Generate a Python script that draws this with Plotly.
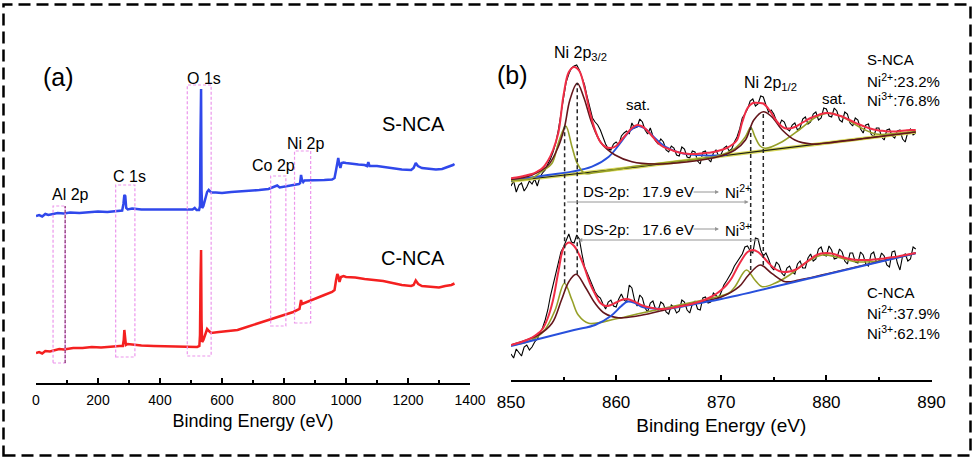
import numpy as np
import plotly.graph_objects as go

W, H = 975, 464
def px(x): return x / W
def py(y): return 1 - y / H

FONT = "Arial, Liberation Sans, Helvetica, sans-serif"

# ---------------- Panel (a): survey spectra ----------------
survey_s_x = [0, 10, 20, 30, 40, 55, 70, 90, 110, 140, 170, 200, 230, 260, 278, 282, 285, 288, 291, 296,
              310, 340, 380, 420, 460, 490, 505, 512, 518, 526, 529, 530.5, 531.5, 532.5, 534, 536, 540, 545,
              552, 557, 565, 580, 600, 630, 660, 690, 720, 750, 770, 778, 786, 810, 835, 848, 852, 855,
              858, 862, 866, 880, 900, 930, 955, 963, 968, 972, 975, 978, 982, 986, 992, 1000, 1020, 1040,
              1060, 1068, 1072, 1076, 1100, 1140, 1180, 1210, 1218, 1225, 1232, 1245, 1270, 1290, 1310,
              1330, 1345, 1350]
survey_s_y = [164, 165, 163.5, 166, 165, 166, 167, 166.5, 167.5, 167, 168, 168.5, 168, 169, 169.5, 176, 185,
              184, 172, 170.5, 171.5, 170.5, 170.5, 170, 170, 170, 170.5, 172, 170, 170, 174, 240, 291,
              291, 190, 172, 174, 180, 188, 190, 187.5, 187.5, 187, 188, 188.5, 189, 190, 191, 193, 194.5,
              192.5, 194, 195, 196, 197, 205, 200, 198, 199.5, 199.5, 200, 200, 200.5, 202, 210, 220, 222,
              216, 212, 217, 217.5, 217, 216, 215.5, 215, 214, 218, 214, 214, 212, 210.5, 210, 212, 217,
              214, 212, 211, 210.5, 211, 213, 215, 216]

survey_c_x = [0, 10, 20, 30, 45, 60, 75, 90, 120, 150, 180, 210, 240, 270, 280, 283, 285, 287, 290, 296,
              310, 340, 380, 420, 460, 500, 520, 527, 529, 530.5, 531.5, 532.5, 534, 536, 540, 546, 552,
              558, 565, 590, 620, 650, 680, 710, 740, 770, 800, 830, 850, 855, 858, 870, 900, 930, 955,
              963, 968, 972, 975, 979, 984, 992, 1000, 1030, 1060, 1090, 1120, 1150, 1180, 1210, 1218,
              1225, 1233, 1245, 1270, 1300, 1320, 1340, 1350]
survey_c_y = [27, 28, 26.5, 29, 28.5, 30, 31, 30.5, 32, 32, 33, 32.5, 33.5, 34, 34, 40, 50, 45, 35, 36,
              35.5, 34.5, 34, 33.5, 33, 33, 33, 34, 45, 95, 130, 130, 60, 38, 40, 45, 51, 49, 47, 48, 49,
              50, 53, 56, 59, 62, 65, 68, 71, 80, 76, 77.5, 82, 85, 88, 90, 100, 106, 104, 98, 103, 104,
              103, 102.5, 101, 100, 99, 97, 95, 94, 95, 99.5, 96, 94, 93, 92.5, 94, 95, 96.5]

# highlighted regions (eV range, intensity range)
box_x0 = [55, 257, 488, 757, 834]
box_x1 = [94, 319, 565, 806, 886]
box_y0 = [17, 23, 24, 54, 57]
box_y1 = [174, 195, 295, 204, 229]

# ---------------- Panel (b): Ni 2p high resolution ----------------
grid_data = np.round(np.arange(850, 888.51, 0.25), 2)   # raw data sampling (0.25 eV)
grid_env = np.round(np.arange(850, 888.51, 0.5), 2)     # fitted envelope sampling (0.5 eV)

s_data = [194, 199, 188, 195, 197, 189, 193, 199,
          196, 201, 194, 203, 207, 210, 216, 221,
          228, 237, 250, 266, 283, 298, 306, 312,
          314, 315, 310, 303, 295, 283, 272, 262,
          258, 255, 250, 242, 236, 231, 230, 236,
          238, 235, 244, 247, 249, 246, 257, 252,
          253, 261, 258, 250, 246, 252, 244, 239,
          236, 241, 238, 230, 228, 234, 232, 225,
          224, 233, 231, 223, 222, 229, 228, 219,
          216, 228, 229, 221, 218, 227, 230, 224,
          226, 232, 234, 229, 231, 238, 243, 251,
          262, 266, 271, 279, 281, 274, 276, 284,
          283, 275, 268, 270, 266, 259, 254, 260,
          258, 251, 249, 255, 257, 250, 252, 261,
          263, 256, 258, 266, 268, 260, 262, 272,
          271, 264, 263, 272, 269, 260, 258, 268,
          266, 257, 254, 262, 260, 251, 247, 255,
          256, 246, 243, 252, 252, 243, 240, 250,
          251, 244, 242, 249, 250, 241, 238, 248,
          251, 245, 247]
s_env = [201.7, 202.5, 203.5, 204.8, 206, 208.5, 212, 219, 230, 247, 285, 308, 313, 309, 292, 268, 250,
         238, 233, 232, 234, 240, 246, 252, 255, 253.5, 249, 243, 237, 233, 231, 229, 227.5, 226.5, 226,
         226, 226.5, 227, 227.5, 228.5, 230, 232, 235, 240, 258, 272, 277, 277, 276.5, 271, 263, 256, 252,
         251.5, 253, 256, 259, 262, 264, 266, 267, 266.5, 265, 263.5, 261, 258.5, 256, 254, 252, 250.5,
         249.5, 249, 248.5, 248.5, 249, 249.5, 250, 250]

s_base_x = [850, 862, 870, 888.5]
s_base_y = [199, 213, 224, 248]

s_blue_x = [850, 853.5, 855.8, 857.7, 859.3, 860.5, 861.3, 862.1, 862.8, 863.4, 864.7, 866.3, 868.5, 870.5]
s_blue_y = [199.5, 205, 208.3, 213.3, 223.3, 238.3, 249, 254, 251, 245, 233.3, 226.7, 224.5, 225]

s_olive_x = [850, 852, 852.9, 853.9, 854.5, 855.2, 855.8, 856.3, 857, 858, 860, 862, 866, 869.5, 871.3,
             872.3, 872.8, 873.2, 873.7, 874.2, 875.8, 877.4, 879, 880.2, 881.5, 883.1, 884.7, 886.6, 888.5]
s_olive_y = [199.5, 202, 208.3, 216.7, 236.7, 254, 233.3, 216.7, 206.7, 207.5, 210.5, 214, 219, 223.5,
             231.7, 243.3, 252.7, 243.3, 234, 231.7, 238.3, 250, 262.7, 266.7, 263.3, 253.3, 246, 246.5,
             248.5]

s_brown_x = [850, 852, 853.55, 854.5, 855.1, 855.6, 856.3, 856.9, 857.7, 858.6, 859.9, 861.5, 863.7,
             866.9, 869.7, 871.3, 872.3, 873.1, 874.0, 874.8, 875.8, 877.0, 878.6, 880, 884, 888.5]
s_brown_y = [200.5, 205, 215, 233.3, 253.3, 280, 296.7, 283.3, 256.7, 236.7, 225, 218.3, 216, 218.3,
             223.3, 230, 240, 260, 268.3, 263.3, 250, 240, 236, 237, 242, 248]

c_data = [26, 22, 31, 28, 24, 33, 35, 30,
          33, 38, 41, 47, 52, 60, 70, 84,
          95, 104, 115, 128, 133, 139, 146, 138,
          137, 145, 141, 126, 113, 107, 101, 95,
          88, 84, 82, 76, 71, 78, 80, 74,
          73, 81, 86, 80, 78, 95, 92, 80,
          74, 85, 82, 72, 68, 77, 79, 71,
          70, 78, 76, 68, 66, 75, 73, 67,
          69, 80, 78, 70, 67, 76, 79, 71,
          70, 82, 83, 77, 78, 87, 84, 82,
          88, 95, 99, 103, 108, 114, 118, 122,
          126, 133, 134, 129, 127, 142, 141, 130,
          124, 127, 121, 113, 110, 118, 115, 107,
          104, 112, 114, 108, 106, 116, 119, 112,
          112, 122, 126, 119, 121, 131, 133, 125,
          124, 134, 130, 121, 122, 131, 128, 119,
          116, 127, 127, 118, 117, 128, 125, 116,
          114, 126, 128, 118, 119, 127, 124, 115,
          113, 128, 129, 117, 110, 124, 126, 119,
          121, 133, 131]
c_env = [35, 36.5, 38, 40, 42.5, 46, 51, 62, 80, 108, 132, 137.5, 134, 125, 112, 97, 86, 77, 74, 75,
         77.5, 80, 81, 79.5, 77, 74.5, 73, 72, 71, 71, 71.5, 72.5, 73.5, 74.5, 75.5, 77, 78.5, 80.5, 83,
         86, 90, 95, 102, 112, 121, 128, 130, 128, 123, 117, 112, 109, 108, 108.5, 110, 113, 117, 121,
         124.5, 126.5, 127, 126.5, 125, 123, 121.5, 120.5, 120, 120, 120, 120.5, 121, 121.5, 122.5, 123,
         124, 125, 126, 127]

c_blue_x = [850, 853, 856, 858, 859.5, 860.5, 861.1, 861.8, 862.5, 863.5, 864.5, 866, 868, 870, 880, 888.5]
c_blue_y = [34, 42, 50, 55, 64, 74, 78.5, 77, 73, 71.5, 71, 73, 77, 81, 105.5, 126.7]

c_olive_x = [850, 852, 853.2, 854.2, 855.08, 855.8, 856.4, 857.4, 859.9, 862, 866, 869.5, 870.7, 871.3,
             872.4, 873.2, 873.9, 875.1, 876.5, 878, 879.6, 881, 882.8, 885.3, 888.5]
c_olive_y = [34.5, 40, 50, 70, 96.7, 80, 65, 56.7, 61, 66, 75, 83, 86.7, 93.3, 110, 100, 93.3, 96.7, 105,
             117, 125, 123, 118.3, 119.3, 126.7]

c_brown_x = [850, 852.6, 853.9, 854.8, 855.5, 856.2, 857.05, 858, 858.9, 860.2, 862, 864, 866, 868, 870,
             871.7, 872.6, 873.7, 874.8, 876.1, 877.4, 880, 888.5]
c_brown_y = [35, 45, 56.7, 80, 98.3, 105.7, 93.3, 76.7, 66.7, 62.3, 64, 68.5, 73.5, 78, 83, 93.3, 105, 115,
             106.7, 98.3, 100, 106, 127]

# peak-position guide lines (eV, top, bottom)
guide_x = [855.1, 856.3, 872.8, 874.0]
guide_top = [254, 297, 252.7, 268.3]
guide_bot = [96.7, 105.7, 110, 115]

assert len(s_data) == len(grid_data) == len(c_data)
assert len(s_env) == len(grid_env) == len(c_env)

BLUE_A = "rgb(48,72,235)"
RED_A = "rgb(244,32,32)"
RED_B = "rgb(240,45,70)"
BROWN = "rgb(100,22,28)"
OLIVE = "rgb(150,160,40)"
BLUE_B = "rgb(40,80,220)"
PINK = "rgb(236,150,236)"

fig = go.Figure()

fig.add_trace(go.Scatter(x=survey_s_x, y=survey_s_y, mode="lines", line=dict(color=BLUE_A, width=2.5),
                         xaxis="x", yaxis="y"))
fig.add_trace(go.Scatter(x=survey_c_x, y=survey_c_y, mode="lines", line=dict(color=RED_A, width=2.5),
                         xaxis="x", yaxis="y"))

def add_b(x, y, color, width, shape="spline"):
    fig.add_trace(go.Scatter(x=x, y=y, mode="lines", line=dict(color=color, width=width, shape=shape),
                             xaxis="x2", yaxis="y2"))

# S-NCA
add_b(grid_data, s_data, "black", 1.1, "linear")
add_b(s_base_x, s_base_y, "rgb(215,215,90)", 3.5, "linear")
add_b(s_base_x, s_base_y, "rgb(30,30,20)", 1.2, "linear")
add_b(s_blue_x, s_blue_y, BLUE_B, 1.8)
add_b(s_olive_x, s_olive_y, OLIVE, 1.6)
add_b(s_brown_x, s_brown_y, BROWN, 1.6)
add_b(grid_env, s_env, RED_B, 2)
# C-NCA
add_b(grid_data, c_data, "black", 1.1, "linear")
add_b(c_olive_x, c_olive_y, OLIVE, 1.6)
add_b(c_brown_x, c_brown_y, BROWN, 1.6)
add_b(c_blue_x, c_blue_y, BLUE_B, 2)
add_b(grid_env, c_env, RED_B, 2)

shapes = []
for x0, x1, y0, y1 in zip(box_x0, box_x1, box_y0, box_y1):
    shapes.append(dict(type="rect", xref="x", yref="y", x0=x0, x1=x1, y0=y0, y1=y1,
                       line=dict(color=PINK, width=1.2, dash="3px,2px")))
shapes.append(dict(type="line", xref="x", yref="y", x0=box_x1[0], x1=box_x1[0], y0=box_y0[0], y1=box_y1[0],
                   line=dict(color="rgb(130,40,110)", width=1.2, dash="3px,2px")))
for gx, gt, gb in zip(guide_x, guide_top, guide_bot):
    shapes.append(dict(type="line", xref="x2", yref="y2", x0=gx, x1=gx, y0=gb, y1=gt,
                       line=dict(color="rgb(40,40,40)", width=1.5, dash="4px,3px")))
# outer dashed frame
shapes.append(dict(type="rect", xref="paper", yref="paper", x0=px(3.5), x1=px(970.5), y0=py(455.5), y1=py(4.5),
                   line=dict(color="black", width=2.5, dash="12px,6px")))

ann = []
def txt(x, y, s, size, anchor="center"):
    ann.append(dict(x=px(x), y=py(y), xref="paper", yref="paper", text=s, showarrow=False,
                    xanchor=anchor, yanchor="middle", font=dict(size=size, color="black", family=FONT)))

txt(58, 77, "(a)", 25)
txt(204, 78, "O 1s", 16)
txt(413, 124, "S-NCA", 20)
txt(305, 143, "Ni 2p", 16)
txt(273, 165, "Co 2p", 16)
txt(129, 176, "C 1s", 16)
txt(70, 194, "Al 2p", 16)
txt(413, 258, "C-NCA", 20)

txt(512, 75, "(b)", 25)
txt(580, 53, "Ni 2p<sub>3/2</sub>", 16)
txt(638, 105, "sat.", 15)
txt(770, 83, "Ni 2p<sub>1/2</sub>", 16)
txt(834, 98, "sat.", 15)
txt(865, 59, "S-NCA", 15, "left")
txt(865, 80, "Ni<sup>2+</sup>:23.2%", 15, "left")
txt(865, 100, "Ni<sup>3+</sup>:76.8%", 15, "left")
txt(865, 292, "C-NCA", 15, "left")
txt(865, 312, "Ni<sup>2+</sup>:37.9%", 15, "left")
txt(865, 332, "Ni<sup>3+</sup>:62.1%", 15, "left")
txt(581, 192, "DS-2p:\u00a0\u00a0 17.9 eV", 15, "left")
txt(723, 192, "Ni<sup>2+</sup>", 15, "left")
txt(581, 229, "DS-2p:\u00a0\u00a0 17.6 eV", 15, "left")
txt(723, 229, "Ni<sup>3+</sup>", 15, "left")

GRAY = "rgb(150,150,150)"
for yy in (192, 229):
    ann.append(dict(x=px(719), y=py(yy), xref="paper", yref="paper", text="", showarrow=True,
                    ax=-27, ay=0, arrowhead=2, arrowsize=0.8, arrowwidth=1, arrowcolor=GRAY))
ann.append(dict(x=872.6, y=178, xref="x2", yref="y2", ax=855.2, ay=178, axref="x2", ayref="y2", text="",
                showarrow=True, arrowhead=2, arrowsize=0.8, arrowwidth=1, arrowcolor=GRAY))
ann.append(dict(x=856.4, y=140, xref="x2", yref="y2", ax=873.8, ay=140, axref="x2", ayref="y2", text="",
                showarrow=True, arrowhead=2, arrowsize=0.8, arrowwidth=1, arrowcolor=GRAY))

axis_common = dict(showline=True, linecolor="black", linewidth=1.5, ticks="inside", ticklen=5,
                   tickwidth=1.5, tickcolor="black", showgrid=False, zeroline=False, automargin=False)

fig.update_layout(
    width=W, height=H, margin=dict(l=0, r=0, t=0, b=0, autoexpand=False),
    paper_bgcolor="white", plot_bgcolor="white", showlegend=False,
    font=dict(family=FONT, color="black"),
    xaxis=dict(domain=[px(36), px(470)], range=[0, 1400], anchor="y", tick0=0, dtick=200,
               minor=dict(ticks="inside", ticklen=3, dtick=100, tickcolor="black"),
               tickfont=dict(size=14), ticklabelstandoff=3,
               title=dict(text="Binding Energy (eV)", font=dict(size=18), standoff=8), **axis_common),
    yaxis=dict(domain=[py(383), py(50)], range=[-3, 330], visible=False),
    xaxis2=dict(domain=[px(511), px(931.5)], range=[850, 890], anchor="y2", tick0=850, dtick=10,
                minor=dict(ticks="inside", ticklen=3, dtick=5, tickcolor="black"),
                tickfont=dict(size=17), ticklabelstandoff=6,
                title=dict(text="Binding Energy (eV)", font=dict(size=19), standoff=8), **axis_common),
    yaxis2=dict(domain=[py(380), py(50)], range=[0, 330], visible=False),
    shapes=shapes, annotations=ann,
)

fig.write_html("out.html", config={"responsive": False, "displayModeBar": False},
               post_script="document.body.style.margin='0';document.body.style.overflow='hidden';")
